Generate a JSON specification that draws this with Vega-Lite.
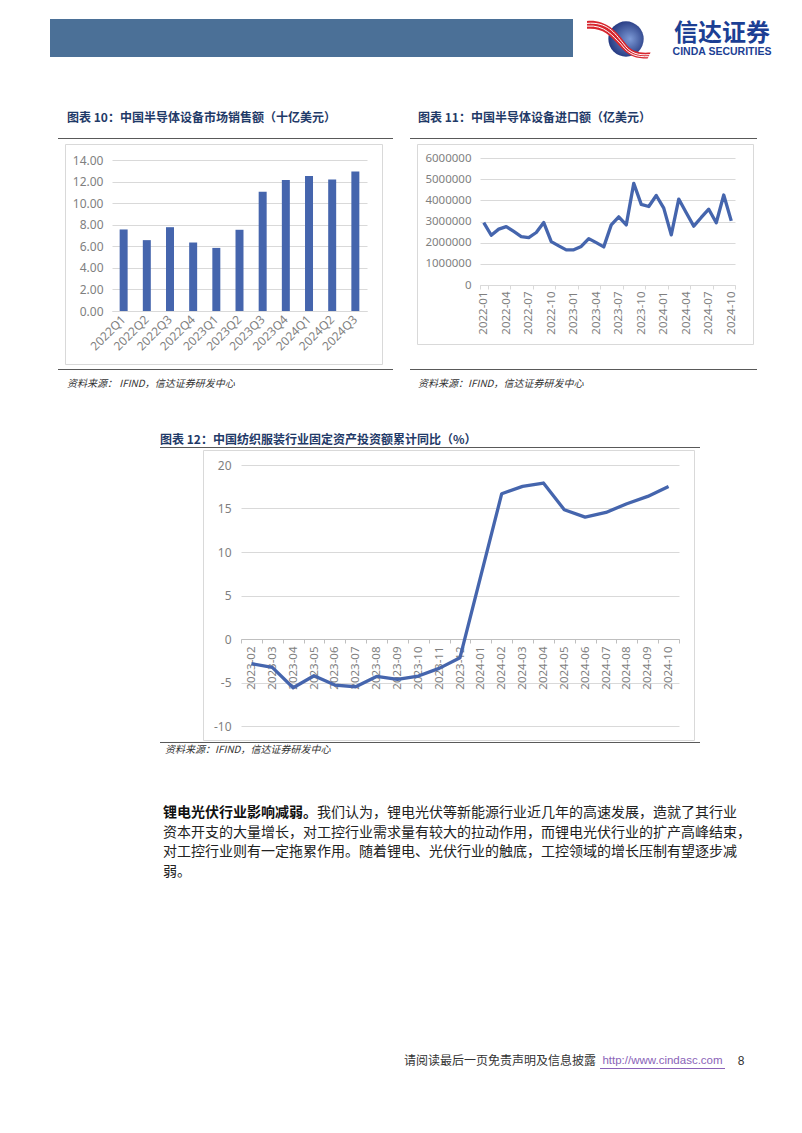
{
  "$schema": "https://vega.github.io/schema/vega-lite/v6.json",
  "background": "white",
  "padding": 0,
  "autosize": {"type": "pad"},
  "config": {
    "view": {"stroke": null},
    "font": "Noto Sans CJK SC",
    "concat": {"spacing": 0},
    "axis": {"labelFont": "Noto Sans", "labelColor": "#7f7f7f", "labelFontSize": 12, "gridColor": "#d9d9d9", "domainColor": "#d9d9d9", "tickColor": "#d9d9d9", "labelOverlap": false},
    "title": {"font": "Noto Sans CJK SC"}
  },
  "spacing": 0, "bounds": "full", "align": "each",
  "vconcat": [
    {"width": 802, "height": 19, "data": {"values": []}, "mark": {"type": "text"}, "encoding": {"text": {"value": ""}}},
    {"hconcat": [
      {"width": 50, "height": 40, "data": {"values": []}, "mark": {"type": "text"}, "encoding": {"text": {"value": ""}}},
      {"width": 523, "height": 38, "view": {"fill": "#4b7097", "stroke": null}, "data": {"values": []}, "mark": {"type": "text"}, "encoding": {"text": {"value": ""}}},
      {"width": 15, "height": 1, "data": {"values": []}, "mark": {"type": "text"}, "encoding": {"text": {"value": ""}}},
      {"width": 76, "height": 40, "data": {"values": [{"k": "logo"}]}, "layer": [
        {"mark": {"type": "point", "shape": "circle", "filled": true, "size": 1250, "opacity": 1, "strokeWidth": 0, "fill": {"gradient": "radial", "x1": 0.62, "y1": 0.5, "r1": 0, "x2": 0.55, "y2": 0.5, "r2": 0.6, "stops": [{"offset": 0, "color": "#7d9ad6"}, {"offset": 1, "color": "#1b2f78"}]}}, "encoding": {}},
        {"mark": {"type": "point", "shape": "M-1.3,-0.6 C-0.7,-0.65 -0.35,-0.3 -0.05,0.1 C0.2,0.45 0.45,0.47 0.82,0.45 L0.72,0.65 C0.35,0.65 0.1,0.6 -0.25,0.2 C-0.55,-0.15 -0.8,-0.38 -1.3,-0.34 Z", "filled": true, "size": 3600, "fill": "#d7262e", "opacity": 1, "strokeWidth": 0}, "encoding": {}},
        {"mark": {"type": "point", "shape": "M-1.3,-0.52 C-0.62,-0.58 -0.38,-0.2 -0.1,0.14 C0.15,0.5 0.42,0.55 0.8,0.52 M-1.3,-0.43 C-0.7,-0.48 -0.45,-0.1 -0.17,0.17 C0.12,0.56 0.38,0.6 0.76,0.59", "filled": false, "size": 3600, "stroke": "#ffffff", "strokeWidth": 1, "opacity": 1}, "encoding": {}}
      ]},
      {"width": 116, "height": 40, "layer": [
        {"data": {"values": [{"t": "信达证券"}]}, "mark": {"type": "text", "fontSize": 24, "fontWeight": "bold", "color": "#1c3f94", "dy": -5, "font": "Noto Sans CJK SC"}, "encoding": {"text": {"field": "t", "type": "nominal"}}},
        {"data": {"values": [{"t": "CINDA SECURITIES"}]}, "mark": {"type": "text", "fontSize": 10.5, "fontWeight": "bold", "color": "#1c3f94", "dy": 13, "font": "Liberation Sans"}, "encoding": {"text": {"field": "t", "type": "nominal"}}}
      ]}
    ], "spacing": 0, "bounds": "flush", "align": "each"},
    {"hconcat": [
      {"width": 58, "height": 79, "data": {"values": []}, "mark": {"type": "text"}, "encoding": {"text": {"value": ""}}},
      {"width": 335, "height": 79,
       "title": {"text": "图表 10：中国半导体设备市场销售额（十亿美元）", "anchor": "start", "frame": "group", "offset": -78, "dx": 9, "fontSize": 12, "fontWeight": "bold", "color": "#1f3a68", "baseline": "bottom"},
       "data": {"values": []}, "mark": {"type": "text"}, "encoding": {"text": {"value": ""}}},
      {"width": 17, "height": 1, "data": {"values": []}, "mark": {"type": "text"}, "encoding": {"text": {"value": ""}}},
      {"width": 347, "height": 79,
       "title": {"text": "图表 11：中国半导体设备进口额（亿美元）", "anchor": "start", "frame": "group", "offset": -78, "dx": 8, "fontSize": 12, "fontWeight": "bold", "color": "#1f3a68", "baseline": "bottom"},
       "data": {"values": []}, "mark": {"type": "text"}, "encoding": {"text": {"value": ""}}}
    ], "spacing": 0, "bounds": "flush", "align": "each"},
    {"hconcat": [
      {"width": 58, "height": 1, "data": {"values": []}, "mark": {"type": "text"}, "encoding": {"text": {"value": ""}}},
      {"width": 335, "height": 1, "view": {"fill": "#595959", "stroke": null}, "data": {"values": [{}]}, "mark": {"type": "point", "size": 0, "opacity": 0}, "encoding": {}},
      {"width": 17, "height": 1, "data": {"values": []}, "mark": {"type": "text"}, "encoding": {"text": {"value": ""}}},
      {"width": 347, "height": 1, "view": {"fill": "#595959", "stroke": null}, "data": {"values": [{}]}, "mark": {"type": "point", "size": 0, "opacity": 0}, "encoding": {}}
    ], "spacing": 0, "bounds": "flush", "align": "each"},
    {"width": 1, "height": 4, "data": {"values": []}, "mark": {"type": "text"}, "encoding": {"text": {"value": ""}}},
    {"hconcat": [
      {"width": 65, "height": 225, "data": {"values": []}, "mark": {"type": "text"}, "encoding": {"text": {"value": ""}}},
      {"width": 317, "height": 220, "view": {"stroke": "#d9d9d9", "strokeWidth": 1},
       "data": {"values": [
         {"q": "2022Q1", "v": 7.56}, {"q": "2022Q2", "v": 6.57}, {"q": "2022Q3", "v": 7.77}, {"q": "2022Q4", "v": 6.35},
         {"q": "2023Q1", "v": 5.85}, {"q": "2023Q2", "v": 7.53}, {"q": "2023Q3", "v": 11.06}, {"q": "2023Q4", "v": 12.14},
         {"q": "2024Q1", "v": 12.51}, {"q": "2024Q2", "v": 12.2}, {"q": "2024Q3", "v": 12.94}
       ]},
       "mark": {"type": "bar", "color": "#4565ad"},
       "encoding": {
         "x": {"field": "q", "type": "nominal", "sort": null, "scale": {"paddingInner": 0.655, "paddingOuter": 0.33, "range": [47, 302]},
               "axis": {"title": null, "offset": -53, "labelAngle": -45, "labelAlign": "right", "labelBaseline": "middle", "ticks": false, "labelPadding": 6, "grid": false}},
         "y": {"field": "v", "type": "quantitative", "scale": {"domain": [0, 14], "range": [167, 16]},
               "axis": {"title": null, "offset": -47, "values": [0, 2, 4, 6, 8, 10, 12, 14], "format": ".2f", "domain": false, "ticks": false, "labelPadding": 9, "grid": true}}
       }},
      {"width": 35, "height": 1, "data": {"values": []}, "mark": {"type": "text"}, "encoding": {"text": {"value": ""}}},
      {"width": 336, "height": 200, "view": {"stroke": "#d9d9d9", "strokeWidth": 1},
       "data": {"values": [
         {"m": "2022-01", "v": 2950000}, {"m": "2022-02", "v": 2350000}, {"m": "2022-03", "v": 2640000}, {"m": "2022-04", "v": 2760000},
         {"m": "2022-05", "v": 2530000}, {"m": "2022-06", "v": 2290000}, {"m": "2022-07", "v": 2240000}, {"m": "2022-08", "v": 2480000},
         {"m": "2022-09", "v": 2950000}, {"m": "2022-10", "v": 2050000}, {"m": "2022-11", "v": 1850000}, {"m": "2022-12", "v": 1660000},
         {"m": "2023-01", "v": 1660000}, {"m": "2023-02", "v": 1820000}, {"m": "2023-03", "v": 2190000}, {"m": "2023-04", "v": 2000000},
         {"m": "2023-05", "v": 1800000}, {"m": "2023-06", "v": 2840000}, {"m": "2023-07", "v": 3220000}, {"m": "2023-08", "v": 2840000},
         {"m": "2023-09", "v": 4800000}, {"m": "2023-10", "v": 3810000}, {"m": "2023-11", "v": 3710000}, {"m": "2023-12", "v": 4230000},
         {"m": "2024-01", "v": 3630000}, {"m": "2024-02", "v": 2370000}, {"m": "2024-03", "v": 4060000}, {"m": "2024-04", "v": 3410000},
         {"m": "2024-05", "v": 2780000}, {"m": "2024-06", "v": 3190000}, {"m": "2024-07", "v": 3580000}, {"m": "2024-08", "v": 2940000},
         {"m": "2024-09", "v": 4250000}, {"m": "2024-10", "v": 3030000}
       ]},
       "mark": {"type": "line", "color": "#4565ad", "strokeWidth": 3.3, "strokeJoin": "round"},
       "encoding": {
         "x": {"field": "m", "type": "ordinal", "sort": null, "scale": {"type": "band", "paddingInner": 0, "paddingOuter": 0, "range": [63, 318]},
               "axis": {"title": null, "offset": -59, "values": ["2022-01", "2022-04", "2022-07", "2022-10", "2023-01", "2023-04", "2023-07", "2023-10", "2024-01", "2024-04", "2024-07", "2024-10"],
                        "labelAngle": -90, "labelAlign": "right", "labelBaseline": "middle", "tickBand": "extent", "ticks": true, "tickSize": 4, "labelPadding": 2, "labelFontSize": 11.5, "grid": false}},
         "y": {"field": "v", "type": "quantitative", "scale": {"domain": [0, 6000000], "range": [141, 14]},
               "axis": {"title": null, "offset": -63, "values": [0, 1000000, 2000000, 3000000, 4000000, 5000000, 6000000], "format": "d", "domain": false, "ticks": false, "labelPadding": 9, "labelFontSize": 11.5, "grid": true}}
       }}
    ], "spacing": 0, "bounds": "flush", "align": "each"},
    {"hconcat": [
      {"width": 58, "height": 1, "data": {"values": []}, "mark": {"type": "text"}, "encoding": {"text": {"value": ""}}},
      {"width": 335, "height": 1, "view": {"fill": "#595959", "stroke": null}, "data": {"values": [{}]}, "mark": {"type": "point", "size": 0, "opacity": 0}, "encoding": {}},
      {"width": 17, "height": 1, "data": {"values": []}, "mark": {"type": "text"}, "encoding": {"text": {"value": ""}}},
      {"width": 347, "height": 1, "view": {"fill": "#595959", "stroke": null}, "data": {"values": [{}]}, "mark": {"type": "point", "size": 0, "opacity": 0}, "encoding": {}}
    ], "spacing": 0, "bounds": "flush", "align": "each"},
    {"hconcat": [
      {"width": 58, "height": 22, "data": {"values": []}, "mark": {"type": "text"}, "encoding": {"text": {"value": ""}}},
      {"width": 335, "height": 22,
       "title": {"text": "资料来源：  IFIND，信达证券研发中心", "anchor": "start", "frame": "group", "offset": -19, "dx": 9, "fontSize": 10, "fontStyle": "italic", "fontWeight": "normal", "color": "#333333", "baseline": "top"},
       "data": {"values": []}, "mark": {"type": "text"}, "encoding": {"text": {"value": ""}}},
      {"width": 17, "height": 1, "data": {"values": []}, "mark": {"type": "text"}, "encoding": {"text": {"value": ""}}},
      {"width": 347, "height": 22,
       "title": {"text": "资料来源：IFIND，信达证券研发中心", "anchor": "start", "frame": "group", "offset": -19, "dx": 8, "fontSize": 10, "fontStyle": "italic", "fontWeight": "normal", "color": "#333333", "baseline": "top"},
       "data": {"values": []}, "mark": {"type": "text"}, "encoding": {"text": {"value": ""}}}
    ], "spacing": 0, "bounds": "flush", "align": "each"},
    {"hconcat": [
      {"width": 160, "height": 55, "data": {"values": []}, "mark": {"type": "text"}, "encoding": {"text": {"value": ""}}},
      {"width": 540, "height": 55,
       "title": {"text": "图表 12：中国纺织服装行业固定资产投资额累计同比（%）", "anchor": "start", "frame": "group", "offset": -67, "dx": 0, "fontSize": 12, "fontWeight": "bold", "color": "#1f3a68", "baseline": "bottom"},
       "data": {"values": []}, "mark": {"type": "text"}, "encoding": {"text": {"value": ""}}}
    ], "spacing": 0, "bounds": "flush", "align": "each"},
    {"hconcat": [
      {"width": 160, "height": 1, "data": {"values": []}, "mark": {"type": "text"}, "encoding": {"text": {"value": ""}}},
      {"width": 540, "height": 1, "view": {"fill": "#595959", "stroke": null}, "data": {"values": [{}]}, "mark": {"type": "point", "size": 0, "opacity": 0}, "encoding": {}}
    ], "spacing": 0, "bounds": "flush", "align": "each"},
    {"width": 1, "height": 1, "data": {"values": []}, "mark": {"type": "text"}, "encoding": {"text": {"value": ""}}},
    {"hconcat": [
      {"width": 203, "height": 292, "data": {"values": []}, "mark": {"type": "text"}, "encoding": {"text": {"value": ""}}},
      {"width": 491, "height": 290, "view": {"stroke": "#d9d9d9", "strokeWidth": 1},
       "data": {"values": [
         {"m": "2023-02", "v": -2.84}, {"m": "2023-03", "v": -3.26}, {"m": "2023-04", "v": -5.6}, {"m": "2023-05", "v": -4.22},
         {"m": "2023-06", "v": -5.3}, {"m": "2023-07", "v": -5.49}, {"m": "2023-08", "v": -4.3}, {"m": "2023-09", "v": -4.64},
         {"m": "2023-10", "v": -4.26}, {"m": "2023-11", "v": -3.38}, {"m": "2023-12", "v": -2.15},
         {"m": "2024-02", "v": 16.7}, {"m": "2024-03", "v": 17.54}, {"m": "2024-04", "v": 17.93}, {"m": "2024-05", "v": 14.86},
         {"m": "2024-06", "v": 14.01}, {"m": "2024-07", "v": 14.55}, {"m": "2024-08", "v": 15.55}, {"m": "2024-09", "v": 16.39},
         {"m": "2024-10", "v": 17.54}
       ]},
       "mark": {"type": "line", "color": "#4565ad", "strokeWidth": 3.3, "strokeJoin": "round"},
       "encoding": {
         "x": {"field": "m", "type": "ordinal", "sort": null,
               "scale": {"type": "band", "paddingInner": 0, "paddingOuter": 0, "range": [38, 476], "domain": ["2023-02", "2023-03", "2023-04", "2023-05", "2023-06", "2023-07", "2023-08", "2023-09", "2023-10", "2023-11", "2023-12", "2024-01", "2024-02", "2024-03", "2024-04", "2024-05", "2024-06", "2024-07", "2024-08", "2024-09", "2024-10"]},
               "axis": {"title": null, "offset": -101, "labelAngle": -90, "labelAlign": "right", "labelBaseline": "middle", "tickBand": "extent", "ticks": true, "tickSize": 4, "labelPadding": 3, "labelFontSize": 11.5, "domainColor": "#bfbfbf", "tickColor": "#bfbfbf", "grid": false}},
         "y": {"field": "v", "type": "quantitative", "scale": {"domain": [-10, 20], "range": [276, 15]},
               "axis": {"title": null, "offset": -38, "values": [-10, -5, 0, 5, 10, 15, 20], "labelExpr": "datum.value + ''", "domain": false, "ticks": false, "labelPadding": 10, "grid": true}}
       }}
    ], "spacing": 0, "bounds": "flush", "align": "each"},
    {"hconcat": [
      {"width": 160, "height": 1, "data": {"values": []}, "mark": {"type": "text"}, "encoding": {"text": {"value": ""}}},
      {"width": 540, "height": 1, "view": {"fill": "#595959", "stroke": null}, "data": {"values": [{}]}, "mark": {"type": "point", "size": 0, "opacity": 0}, "encoding": {}}
    ], "spacing": 0, "bounds": "flush", "align": "each"},
    {"hconcat": [
      {"width": 160, "height": 22, "data": {"values": []}, "mark": {"type": "text"}, "encoding": {"text": {"value": ""}}},
      {"width": 540, "height": 22,
       "title": {"text": "资料来源：IFIND，信达证券研发中心", "anchor": "start", "frame": "group", "offset": -12, "dx": 5, "fontSize": 10, "fontStyle": "italic", "fontWeight": "normal", "color": "#333333", "baseline": "top"},
       "data": {"values": []}, "mark": {"type": "text"}, "encoding": {"text": {"value": ""}}}
    ], "spacing": 0, "bounds": "flush", "align": "each"},
    {"width": 1, "height": 38, "data": {"values": []}, "mark": {"type": "text"}, "encoding": {"text": {"value": ""}}},
    {"hconcat": [
      {"width": 163, "height": 20, "data": {"values": []}, "mark": {"type": "text"}, "encoding": {"text": {"value": ""}}},
      {"width": 154, "height": 20, "data": {"values": [{"t": "锂电光伏行业影响减弱。"}]}, "mark": {"type": "text", "fontSize": 14, "fontWeight": "bold", "color": "#111111"}, "encoding": {"text": {"field": "t", "type": "nominal"}}},
      {"width": 420, "height": 20, "data": {"values": [{"t": "我们认为，锂电光伏等新能源行业近几年的高速发展，造就了其行业"}]}, "mark": {"type": "text", "fontSize": 14, "color": "#222222"}, "encoding": {"text": {"field": "t", "type": "nominal"}}}
    ], "spacing": 0, "bounds": "flush", "align": "each"},
    {"hconcat": [
      {"width": 163, "height": 19, "data": {"values": []}, "mark": {"type": "text"}, "encoding": {"text": {"value": ""}}},
      {"width": 588, "height": 19, "data": {"values": [{"t": "资本开支的大量增长，对工控行业需求量有较大的拉动作用，而锂电光伏行业的扩产高峰结束，"}]}, "mark": {"type": "text", "fontSize": 14, "color": "#222222"}, "encoding": {"text": {"field": "t", "type": "nominal"}}}
    ], "spacing": 0, "bounds": "flush", "align": "each"},
    {"hconcat": [
      {"width": 163, "height": 20, "data": {"values": []}, "mark": {"type": "text"}, "encoding": {"text": {"value": ""}}},
      {"width": 574, "height": 20, "data": {"values": [{"t": "对工控行业则有一定拖累作用。随着锂电、光伏行业的触底，工控领域的增长压制有望逐步减"}]}, "mark": {"type": "text", "fontSize": 14, "color": "#222222"}, "encoding": {"text": {"field": "t", "type": "nominal"}}}
    ], "spacing": 0, "bounds": "flush", "align": "each"},
    {"hconcat": [
      {"width": 163, "height": 19, "data": {"values": []}, "mark": {"type": "text"}, "encoding": {"text": {"value": ""}}},
      {"width": 28, "height": 19, "data": {"values": [{"t": "弱。"}]}, "mark": {"type": "text", "fontSize": 14, "color": "#222222"}, "encoding": {"text": {"field": "t", "type": "nominal"}}}
    ], "spacing": 0, "bounds": "flush", "align": "each"},
    {"width": 1, "height": 172, "data": {"values": []}, "mark": {"type": "text"}, "encoding": {"text": {"value": ""}}},
    {"hconcat": [
      {"width": 402, "height": 15, "data": {"values": []}, "mark": {"type": "text"}, "encoding": {"text": {"value": ""}}},
      {"width": 196, "height": 15, "data": {"values": [{"t": "请阅读最后一页免责声明及信息披露"}]}, "mark": {"type": "text", "fontSize": 12, "color": "#333333"}, "encoding": {"text": {"field": "t", "type": "nominal"}}},
      {"width": 2, "height": 1, "data": {"values": []}, "mark": {"type": "text"}, "encoding": {"text": {"value": ""}}},
      {"width": 125, "height": 15, "data": {"values": [{"t": "http://www.cindasc.com"}]}, "mark": {"type": "text", "fontSize": 11.5, "color": "#8a63b8", "font": "Liberation Sans"}, "encoding": {"text": {"field": "t", "type": "nominal"}}},
      {"width": 11, "height": 1, "data": {"values": []}, "mark": {"type": "text"}, "encoding": {"text": {"value": ""}}},
      {"width": 10, "height": 15, "data": {"values": [{"t": "8"}]}, "mark": {"type": "text", "fontSize": 12, "color": "#333333", "font": "Liberation Sans"}, "encoding": {"text": {"field": "t", "type": "nominal"}}}
    ], "spacing": 0, "bounds": "flush", "align": "each"},
    {"hconcat": [
      {"width": 600, "height": 1, "data": {"values": []}, "mark": {"type": "text"}, "encoding": {"text": {"value": ""}}},
      {"width": 125, "height": 1, "view": {"fill": "#8a63b8", "stroke": null}, "data": {"values": [{}]}, "mark": {"type": "point", "size": 0, "opacity": 0}, "encoding": {}}
    ], "spacing": 0, "bounds": "flush", "align": "each"},
    {"width": 1, "height": 66, "data": {"values": []}, "mark": {"type": "text"}, "encoding": {"text": {"value": ""}}}
  ]
}
